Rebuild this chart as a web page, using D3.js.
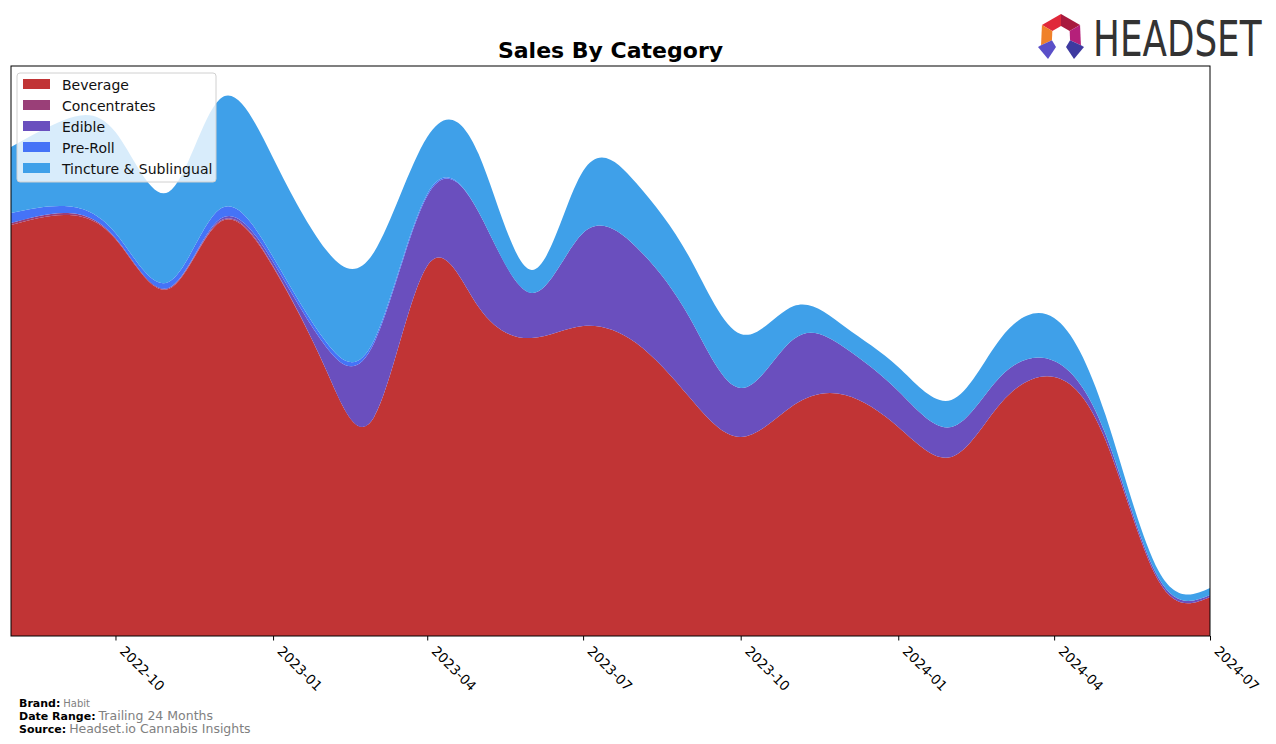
<!DOCTYPE html>
<html>
<head>
<meta charset="utf-8">
<script src="https://cdn.jsdelivr.net/npm/d3@7"></script>
<style>
  html, body { margin: 0; padding: 0; background: #fff; }
  svg { display: block; }
  text { font-family: "DejaVu Sans", sans-serif; }
</style>
</head>
<body>
<svg id="chart" width="1276" height="744"></svg>
<script>
// ---- Data (monthly, relative sales units) ----
const months = ["2022-08","2022-09","2022-10","2022-11","2022-12","2023-01","2023-02","2023-03",
                "2023-04","2023-05","2023-06","2023-07","2023-08","2023-09","2023-10","2023-11",
                "2023-12","2024-01","2024-02","2024-03","2024-04","2024-05","2024-06","2024-07"];
const categories = ["Beverage","Concentrates","Edible","Pre-Roll","Tincture & Sublingual"];
const beverage     = [411,421,397,347,414,369,266,219,370,329,298,310,293,239,199,231,241,209,179,233,259,196,55,39];
const concentrates = [2,2,1,1,1,1,0,0,0,0,0,0,0,0,0,0,0,0,0,0,0,0,0,0];
const edible       = [0,0,0,0,2,4,23,74,70,95,45,93,96,80,49,66,47,36,30,27,16,6,3,2];
const preRoll      = [10,7,5,6,10,5,5,3,2,0,0,0,0,0,0,0,0,0,0,0,0,0,0,0];
const tincture     = [66,86,101,90,110,99,92,88,57,58,23,62,64,60,54,33,21,24,27,38,43,19,7,7];
const yMax = 570; // axis top (the smoothed peak plus a 5% margin)
const tickLabels   = ["2022-10","2023-01","2023-04","2023-07","2023-10","2024-01","2024-04","2024-07"];
const colors = ["#c13435","#9a3f78","#6a4fbe","#4573f7","#3fa0e9"];

// ---- Build table ----
const parse = d3.timeParse("%Y-%m");
const seriesValues = [beverage, concentrates, edible, preRoll, tincture];
const table = months.map((m, i) => {
  const row = { date: parse(m) };
  categories.forEach((c, k) => row[c] = seriesValues[k][i]);
  return row;
});

const svg = d3.select("#chart");
const margin = { left: 11, right: 1210, top: 66, bottom: 636 };

const x = d3.scaleTime()
  .domain(d3.extent(table, d => d.date))
  .range([margin.left, margin.right]);
const y = d3.scaleLinear()
  .domain([0, yMax])
  .range([margin.bottom, margin.top]);

const stacked = d3.stack().keys(categories)(table);

const area = d3.area()
  .x(d => x(d.data.date))
  .y0(d => y(d[0]))
  .y1(d => y(d[1]))
  .curve(d3.curveNatural);

svg.append("defs").append("clipPath").attr("id", "clip")
  .append("rect")
  .attr("x", margin.left).attr("y", margin.top)
  .attr("width", margin.right - margin.left)
  .attr("height", margin.bottom - margin.top);

svg.append("g").attr("clip-path", "url(#clip)")
  .selectAll("path")
  .data(stacked)
  .join("path")
  .attr("d", area)
  .attr("fill", (d, i) => colors[i]);

// Frame
svg.append("rect")
  .attr("x", margin.left).attr("y", margin.top)
  .attr("width", margin.right - margin.left)
  .attr("height", margin.bottom - margin.top)
  .attr("fill", "none").attr("stroke", "#000").attr("stroke-width", 1);

// X axis
const xAxis = d3.axisBottom(x)
  .tickValues(tickLabels.map(parse))
  .tickFormat(d3.timeFormat("%Y-%m"))
  .tickSize(4.5)
  .tickSizeOuter(0);
const gx = svg.append("g")
  .attr("transform", `translate(0,${margin.bottom})`)
  .call(xAxis);
gx.select(".domain").remove();
gx.selectAll(".tick line").attr("stroke", "#000");
gx.selectAll(".tick text")
  .attr("font-family", "DejaVu Sans, sans-serif")
  .attr("font-size", 13.5)
  .attr("fill", "#000")
  .attr("text-anchor", "start")
  .attr("dy", null)
  .attr("y", 0)
  .attr("transform", "translate(3,16) rotate(45)");

// Title
svg.append("text")
  .attr("x", (margin.left + margin.right) / 2)
  .attr("y", 58)
  .attr("text-anchor", "middle")
  .attr("font-size", 22)
  .attr("font-weight", "bold")
  .attr("fill", "#000")
  .text("Sales By Category");

// Legend
const lg = svg.append("g");
lg.append("rect")
  .attr("x", 17).attr("y", 73)
  .attr("width", 199).attr("height", 109)
  .attr("rx", 3)
  .attr("fill", "rgba(255,255,255,0.8)")
  .attr("stroke", "#d0d0d0");
categories.forEach((c, i) => {
  const yy = 79 + i * 21;
  lg.append("rect").attr("x", 23).attr("y", yy).attr("width", 27).attr("height", 10).attr("fill", colors[i]);
  lg.append("text").attr("x", 62).attr("y", yy + 10.5)
    .attr("font-size", 14).attr("fill", "#111").text(c);
});

// Footer
const foot = [
  ["Brand:", "Habit", 10],
  ["Date Range:", "Trailing 24 Months", 12.5],
  ["Source:", "Headset.io Cannabis Insights", 12.5]
];
foot.forEach((f, i) => {
  const t = svg.append("text").attr("x", 19).attr("y", 707 + i * 13);
  t.append("tspan").attr("font-weight", "bold").attr("font-size", 11).attr("fill", "#000").text(f[0]);
  t.append("tspan").attr("dx", 3).attr("font-size", f[2]).attr("fill", "#808080").text(f[1]);
});

// Logo
const logo = svg.append("g");
const cx = 1061, cy = 36;
const P = (r, a) => [cx + r * Math.sin(a * Math.PI / 180), cy - r * Math.cos(a * Math.PI / 180)];
const seg = (a0, a1, ro, ri, col) => {
  const pts = [P(ro, a0), P(ro, a1), P(ri, a1), P(ri, a0)];
  logo.append("polygon").attr("points", pts.map(p => p.join(",")).join(" ")).attr("fill", col);
};
seg(-60, 0, 22, 10, "#e0283a");
seg(0, 60, 22, 10, "#a81a3e");
seg(60, 115, 22, 10, "#b5207a");
seg(-115, -60, 22, 10, "#f0812a");
logo.append("polygon").attr("points", [P(22,-115), P(10,-115), [cx-5, 47], [cx-13, 59], [cx-23, 47]].map(p=>p.join(",")).join(" ")).attr("fill", "#5a4fc8");
logo.append("polygon").attr("points", [P(22,115), P(10,115), [cx+5, 47], [cx+13, 59], [cx+23, 47]].map(p=>p.join(",")).join(" ")).attr("fill", "#3e3aa0");
logo.append("text")
  .attr("transform", "translate(1093,56) scale(0.715,1)")
  .attr("font-family", "Roboto, sans-serif")
  .attr("font-size", 50)
  .attr("fill", "#333")
  .text("HEADSET");
</script>
</body>
</html>
